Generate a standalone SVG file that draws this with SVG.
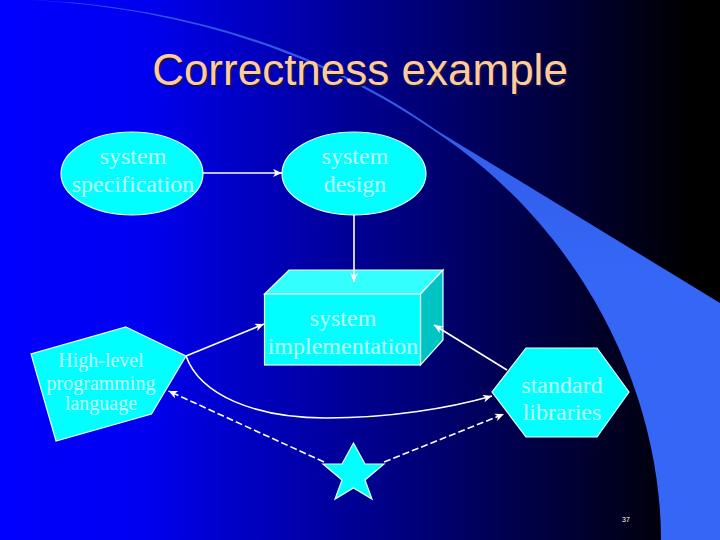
<svg xmlns="http://www.w3.org/2000/svg" width="720" height="540" viewBox="0 0 720 540">
<style>
.shape{fill:#00ffff;stroke:#e6ffff;stroke-width:1.2}
.lbl{font-family:"Liberation Serif",serif;fill:#c0ffff;text-anchor:middle}
.c{fill:none;stroke:#fff;stroke-width:1.6}
.d{stroke-dasharray:7 3}
.title{font-family:"Liberation Sans",sans-serif;font-size:44px;text-anchor:middle}
</style>
<defs>
<linearGradient id="bg" x1="0" y1="0" x2="1" y2="0"><stop offset="0" stop-color="#0000ff"/><stop offset="0.2" stop-color="#0000f0"/><stop offset="0.96" stop-color="#000000"/><stop offset="1" stop-color="#000000"/></linearGradient>
<linearGradient id="sw" x1="0" y1="0" x2="0" y2="1"><stop offset="0" stop-color="#2f55dd"/><stop offset="0.5" stop-color="#3566f5"/><stop offset="1" stop-color="#3566f5"/></linearGradient>
<marker id="a" markerWidth="10" markerHeight="8" refX="9" refY="4" orient="auto" markerUnits="userSpaceOnUse"><path d="M0,0 L9,4 L0,8 L2.500,4 Z" fill="#fff"/></marker>
</defs>
<rect width="720" height="540" fill="url(#bg)"/>
<path d="M30,0 C190,6 330,55 436,130 L720,303 L720,540 L661,540 C661,400 590,235 436,132 C330,58 190,8 30,0 Z" fill="url(#sw)"/>
<g id="title"><text class="title" x="361.500" y="86.500" fill="#14144a">Correctness example</text><text class="title" x="360" y="85" fill="#ffcc99">Correctness example</text></g>
<g id="node-spec"><ellipse class="shape" cx="132" cy="173.500" rx="71" ry="41.500"/><text class="lbl" font-size="24" x="133" y="164">system</text><text class="lbl" font-size="24" x="133" y="192">specification</text></g>
<g id="node-design"><ellipse class="shape" cx="354" cy="173.500" rx="72" ry="41.500"/><text class="lbl" font-size="24" x="355" y="164">system</text><text class="lbl" font-size="24" x="355" y="192">design</text></g>
<g id="node-impl"><path d="M264.500,294 L289,270 H443 L420.500,294 Z" fill="#33ffff" stroke="#e6ffff" stroke-width="1.200"/><path d="M420.500,294 L443,270 V340 L420.500,365 Z" fill="#00c4c4" stroke="#e6ffff" stroke-width="1.200"/><rect class="shape" x="264.500" y="294" width="156" height="71"/><text class="lbl" font-size="24" x="343" y="326">system</text><text class="lbl" font-size="24" x="343" y="354">implementation</text></g>
<g id="node-lang"><path class="shape" d="M126,327 L186,356 L151.500,414 L56,441 L31,354 Z"/><text class="lbl" font-size="20" x="101" y="367">High-level</text><text class="lbl" font-size="20" x="101" y="390">programming</text><text class="lbl" font-size="20" x="101" y="410">language</text></g>
<g id="node-lib"><path class="shape" d="M526,348 H597 L629,392 L597,437 H526 L492,392 Z"/><text class="lbl" font-size="24" x="562" y="393">standard</text><text class="lbl" font-size="24" x="562" y="420">libraries</text></g>
<g id="node-star"><path class="shape" d="M353.500,443 L365,464 H384 L365,480 L372,499 L353.500,488 L335,499 L342,480 L323,464 H342 Z"/></g>
<text id="page" font-family="Liberation Sans,sans-serif" font-size="7" fill="#fff" x="622" y="522">37</text>
<g id="connectors">
<path class="c" d="M203,173 H282" marker-end="url(#a)"/>
<path class="c" d="M354,215 V282" marker-end="url(#a)"/>
<path class="c" d="M186,356 L264,324" marker-end="url(#a)"/>
<path class="c" d="M507,370 L434,325" marker-end="url(#a)"/>
<path class="c" d="M186,356 C200,395 255,418 326,418 C390,418 450,408 492,396" marker-end="url(#a)"/>
<path class="c d" d="M324,462 L168.500,391" marker-end="url(#a)"/>
<path class="c d" d="M384,462 L504,414" marker-end="url(#a)"/>
</g>
</svg>
